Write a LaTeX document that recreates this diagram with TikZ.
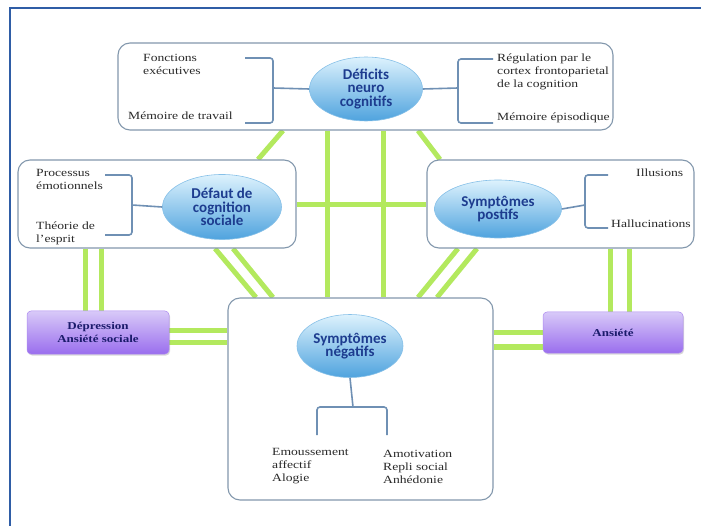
\documentclass[tikz,border=0pt]{standalone}
\usepackage{fontspec}
\setmainfont{Liberation Serif}[FakeStretch=1.24]
\newfontfamily\lblfont{Carlito}
\usetikzlibrary{shapes.geometric,shadows,backgrounds}
\definecolor{frameblue}{HTML}{2F5DA6}
\definecolor{boxline}{HTML}{8398AD}
\definecolor{brack}{HTML}{6F90B4}
\definecolor{conngreen}{HTML}{B3E95E}
\definecolor{elltext}{HTML}{1D3C8F}
\definecolor{elltop}{HTML}{DDF2FD}
\definecolor{ellmid}{HTML}{A5D6F5}
\definecolor{ellbot}{HTML}{4FA3DE}
\definecolor{ellline}{HTML}{86C0E8}
\definecolor{purtop}{HTML}{D8C9F8}
\definecolor{purbot}{HTML}{9A6EEE}
\definecolor{purtext}{HTML}{1B1B6B}
\definecolor{txt}{HTML}{2A2A2A}
\begin{document}
\begin{tikzpicture}[x=1pt,y=-1pt,
  panel/.style={draw=boxline,line width=1.1pt,rounded corners=12pt,fill=white,inner sep=0pt},
  bubble/.style={ellipse,top color=elltop,middle color=ellmid,bottom color=ellbot,draw=ellline,line width=0.6pt,
    font=\lblfont\bfseries\fontsize{15}{13.5}\selectfont,text=elltext,align=center,inner sep=0pt},
  small/.style={font=\fontsize{11}{13}\selectfont,text=txt,align=left,inner sep=0pt,anchor=base west},
  conn/.style={draw=conngreen,line width=5pt},
  brk/.style={draw=brack,line width=1.6pt,rounded corners=3pt},
  purplebox/.style={rounded corners=4pt,top color=purtop,bottom color=purbot,inner sep=0pt,
    draw=purbot!80!white,line width=0.5pt,
    drop shadow={shadow xshift=1pt,shadow yshift=-1.5pt,opacity=0.3},
    font=\bfseries\fontsize{10.5}{13}\selectfont,text=purtext,align=center}]
\useasboundingbox (0,0) rectangle (701,526);
% outer frame
\draw[frameblue,line width=2pt] (10,540) -- (10,8) -- (720,8);

% panels
\node[panel,minimum width=495pt,minimum height=87pt] (top) at (365.5,86.5) {};
\node[panel,minimum width=278pt,minimum height=88pt] (left) at (157,204) {};
\node[panel,minimum width=267pt,minimum height=88pt] (right) at (560.5,204) {};
\node[panel,minimum width=265pt,minimum height=202pt] (neg) at (360.5,399) {};
\node[purplebox,minimum width=142pt,minimum height=43pt] (dep) at (98,332.5) {Dépression\\Ansiété sociale};
\node[purplebox,minimum width=140pt,minimum height=41pt] (anx) at (613,332.5) {Ansiété};

% ellipses
\node[bubble,minimum width=113pt,minimum height=64pt] (def) at (366,89) {Déficits\\neuro\\cognitifs};
\node[bubble,minimum width=119pt,minimum height=65pt] (soc) at (222,207) {Défaut de\\cognition\\sociale};
\node[bubble,minimum width=127pt,minimum height=58pt] (pos) at (498,209) {Symptômes\\postifs};
\node[bubble,minimum width=106pt,minimum height=63pt] (negell) at (350,346) {Symptômes\\négatifs};

% green connectors (behind)
\begin{scope}[on background layer]
\fill[white] (0,0) rectangle (701,526);
\draw[conn] (top.south -| 283,0) -- (left.north -| 258,0);
\draw[conn] (top.south -| 418,0) -- (right.north -| 440,0);
\draw[conn] (top.south -| 327,0) -- (neg.north -| 327,0);
\draw[conn] (top.south -| 383,0) -- (neg.north -| 383,0);
\draw[conn] (left.east |- 0,205) -- (right.west |- 0,205);
\draw[conn] (left.south -| 215,0) -- (neg.north -| 256,0);
\draw[conn] (left.south -| 233,0) -- (neg.north -| 273,0);
\draw[conn] (right.south -| 458,0) -- (neg.north -| 418,0);
\draw[conn] (right.south -| 477,0) -- (neg.north -| 437,0);
\draw[conn] (left.south -| 85,0) -- (dep.north -| 85,0);
\draw[conn] (left.south -| 101,0) -- (dep.north -| 101,0);
\draw[conn] (right.south -| 610,0) -- (anx.north -| 610,0);
\draw[conn] (right.south -| 629,0) -- (anx.north -| 629,0);
\draw[conn] (dep.east |- 0,331) -- (neg.west |- 0,331);
\draw[conn] (dep.east |- 0,343) -- (neg.west |- 0,343);
\draw[conn] (anx.west |- 0,333) -- (neg.east |- 0,333);
\draw[conn] (anx.west |- 0,347) -- (neg.east |- 0,347);
\end{scope}

% brackets
\draw[brk] (245,58) -- (273,58) -- (273,123) -- (245,123);
\draw[brk] (273,88) -- (def.west);
\draw[brk] (def.east) -- (458,88);
\draw[brk] (493,59) -- (458,59) -- (458,123) -- (493,123);
\draw[brk] (105,175) -- (132,175) -- (132,235) -- (105,235);
\draw[brk] (132,205) -- (soc.west);
\draw[brk] (pos.east) -- (585,205);
\draw[brk] (608,175) -- (585,175) -- (585,228) -- (608,228);
\draw[brk] (negell.south) -- (353,407);
\draw[brk] (317,435) -- (317,407) -- (387,407) -- (387,435);

% texts (anchor = baseline of last line)
\node[small] (t1) at (143,74.5) {Fonctions\\exécutives};
\node[small] (t2) at (128,120) {Mémoire de travail};
\node[small] (t3) at (497,88) {Régulation par le\\cortex frontoparietal\\de la cognition};
\node[small] (t4) at (497,121) {Mémoire épisodique};
\node[small] (t5) at (36,190) {Processus\\émotionnels};
\node[small] (t6) at (36,243) {Théorie de\\l'esprit};
\node[small] (t7) at (636,177) {Illusions};
\node[small] (t8) at (611,228) {Hallucinations};
\node[small] (t9) at (272,481) {Emoussement\\affectif\\Alogie};
\node[small] (t10) at (383,483) {Amotivation\\Repli social\\Anhédonie};
\end{tikzpicture}
\end{document}
